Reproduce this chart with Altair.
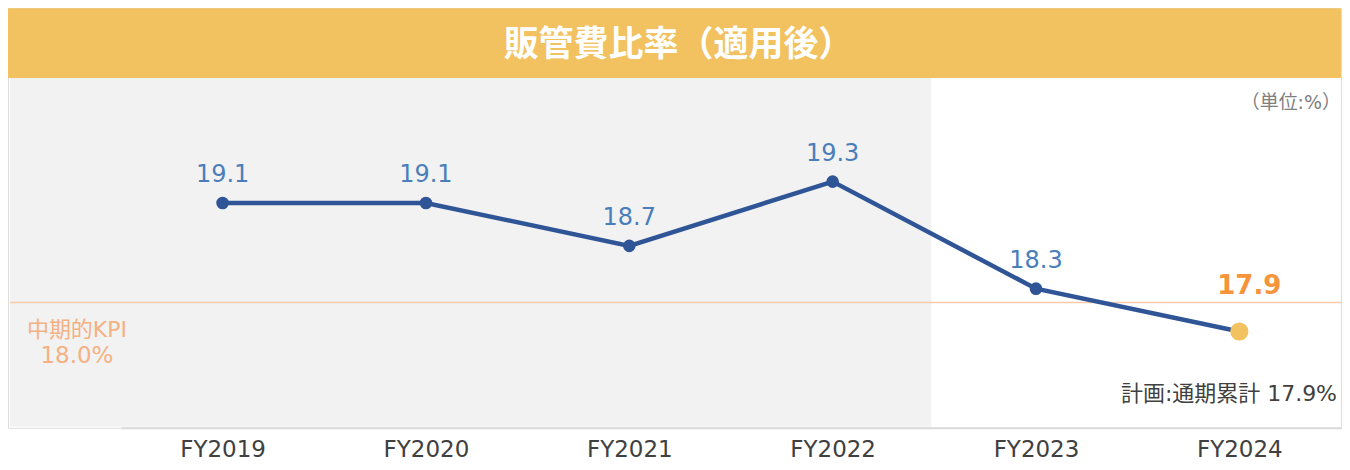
import altair as alt
import pandas as pd

# ---- data ----
years = ["FY2019", "FY2020", "FY2021", "FY2022", "FY2023", "FY2024"]
ratios = [19.1, 19.1, 18.7, 19.3, 18.3, 17.9]
kinds = ["actual", "actual", "actual", "actual", "actual", "plan"]
kpi_position = [18.17]          # where the KPI rule sits on the value scale
kpi_line1 = ["中期的KPI"]
kpi_line2 = ["18.0%"]
title_text = ["販管費比率（適用後）"]
unit_text = ["（単位:%）"]
plan_text = ["計画:通期累計 17.9%"]

CJK = "Noto Sans CJK JP"
FONT = "DejaVu Sans, Noto Sans CJK JP"
W, H = 1334, 420

df = pd.DataFrame({"year": years, "ratio": ratios, "kind": kinds})

xscale = alt.Scale(type="point", domain=years, range=[113, 1334], padding=0.5)
yscale = alt.Scale(domain=[17.0, 20.92], zero=False, nice=False)

X = alt.X("year:N", scale=xscale,
          axis=alt.Axis(title=None, labelAngle=0, ticks=False, tickSize=0,
                        labelFontSize=23, labelColor="#404040", labelPadding=11,
                        domainColor="#D9D9D9", domainWidth=2, labelFont="DejaVu Sans",
                        grid=False))
Y = alt.Y("ratio:Q", scale=yscale, axis=None)

one = pd.DataFrame({"t": title_text})

banner = alt.Chart(one).mark_rect(color="#F2C160").encode(
    x=alt.value(0), x2=alt.value(W), y=alt.value(0), y2=alt.value(70))
title = alt.Chart(one).mark_text(
    color="white", fontSize=35, fontWeight="bold", font=CJK, baseline="middle",
    align="center").encode(x=alt.value(671), y=alt.value(37), text="t:N")

gray = alt.Chart(one).mark_rect(color="#F2F2F2").encode(
    x=alt.value(2), x2=alt.value(924), y=alt.value(70), y2=alt.value(419))

kpi_rule = alt.Chart(pd.DataFrame({"kpi": kpi_position})).mark_rule(
    color="#F8CBAD", strokeWidth=1.5).encode(
    y=alt.Y("kpi:Q", scale=yscale, axis=None), x=alt.value(2), x2=alt.value(W))

kpi_text1 = alt.Chart(pd.DataFrame({"kpi": kpi_position, "t": kpi_line1})).mark_text(
    color="#F4B183", fontSize=22, font=FONT, align="center", baseline="middle",
    dy=27).encode(
    y=alt.Y("kpi:Q", scale=yscale, axis=None), x=alt.value(69), text="t:N")
kpi_text2 = alt.Chart(pd.DataFrame({"kpi": kpi_position, "t": kpi_line2})).mark_text(
    color="#F4B183", fontSize=23, font=FONT, align="center", baseline="middle",
    dy=53).encode(
    y=alt.Y("kpi:Q", scale=yscale, axis=None), x=alt.value(69), text="t:N")

line = alt.Chart(df).mark_line(color="#2F5597", strokeWidth=4.5).encode(x=X, y=Y)

points = alt.Chart(df).mark_circle(opacity=1).encode(
    x=X, y=Y,
    color=alt.Color("kind:N", scale=alt.Scale(domain=["actual", "plan"],
                                              range=["#2F5597", "#F2C160"]), legend=None),
    size=alt.Size("kind:N", scale=alt.Scale(domain=["actual", "plan"], range=[160, 330]),
                  legend=None))

labels_actual = alt.Chart(df).transform_filter(alt.datum.kind == "actual").mark_text(
    color="#4A7EBB", fontSize=24, font="DejaVu Sans", dy=-28,
    baseline="middle").encode(x=X, y=Y, text=alt.Text("ratio:Q", format=".1f"))

labels_plan = alt.Chart(df).transform_filter(alt.datum.kind == "plan").mark_text(
    color="#F5943A", fontSize=26, fontWeight="bold", font="DejaVu Sans", dy=-46, dx=10,
    baseline="middle").encode(x=X, y=Y, text=alt.Text("ratio:Q", format=".1f"))

unit = alt.Chart(pd.DataFrame({"t": unit_text})).mark_text(
    color="#7F7F7F", fontSize=19, font=FONT, align="right", baseline="middle").encode(
    x=alt.value(1334), y=alt.value(95), text="t:N")

plan_note = alt.Chart(pd.DataFrame({"t": plan_text})).mark_text(
    color="#404040", fontSize=22, font=FONT, align="right", baseline="middle").encode(
    x=alt.value(1330), y=alt.value(386), text="t:N")

chart = alt.layer(
    banner, gray, title, kpi_rule, kpi_text1, kpi_text2, line, points,
    labels_actual, labels_plan, unit, plan_note
).properties(width=W, height=H, padding=0).configure_view(stroke=None).configure(
    font=CJK, background="white")

chart.save("out.html", embed_options={"renderer": "svg", "actions": False})
